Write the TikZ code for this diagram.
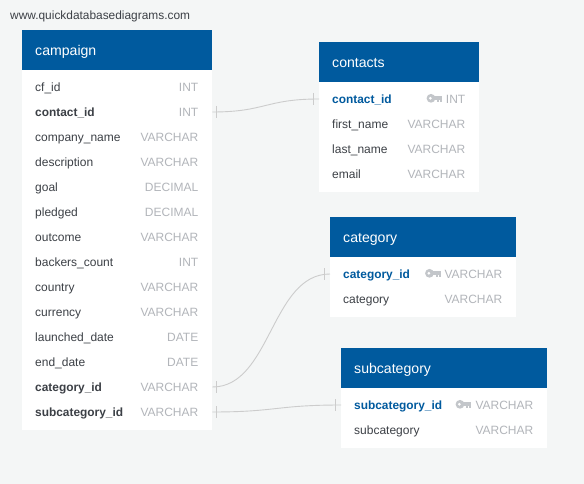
\documentclass[tikz,border=0pt]{standalone}
\usepackage{fontspec}
\setmainfont{Liberation Sans}
\definecolor{pagebg}{HTML}{F4F6F6}
\definecolor{headblue}{HTML}{005A9E}
\definecolor{rowtext}{HTML}{3C4046}
\definecolor{typegrey}{HTML}{B2B5BA}
\definecolor{linkline}{HTML}{CCCCCC}
\definecolor{keygrey}{HTML}{C3C6CA}
\tikzset{
  x=1pt,y=-1pt,
  headbox/.style={fill=headblue,draw=none,inner sep=0,anchor=north west,minimum height=40pt},
  rowbox/.style={fill=white,draw=none,inner sep=0,anchor=west,minimum height=25pt},
  rowname/.style={anchor=base west,inner sep=0,text=rowtext,font=\fontsize{12}{14}\selectfont},
  fkname/.style={rowname,font=\fontsize{11.9}{14}\selectfont\bfseries},
  pkname/.style={fkname,text=headblue},
  rowtype/.style={anchor=base east,inner sep=0,text=typegrey,font=\fontsize{12}{14}\selectfont},
  title/.style={anchor=base west,inner sep=0,text=white,font=\fontsize{14.1}{16}\selectfont},
  link/.style={draw=linkline,line width=0.9pt},
  tick/.style={draw=linkline,line width=0.9pt},
  keyicon/.pic={
    \fill[keygrey] (4.5,0) circle[radius=4.4];
    \fill[keygrey] (7,-1.9) rectangle (15.5,1.5);
    \fill[keygrey] (10.5,0) rectangle (12.5,3.5);
    \fill[keygrey] (13.5,0) rectangle (15.5,3.5);
    \fill[white] (3.8,0) circle[radius=1.5];
  }
}
% id, left, top, width, title
\newcommand{\tablehead}[5]{%
  \node[headbox,minimum width=#4pt] (#1) at (#2,#3) {};
  \node[title] (#1-title) at (#2+13,#3+25.5) {#5};
}
% id, left, centre y, width, name style, name, type
\newcommand{\tablerow}[7]{%
  \node[rowbox,minimum width=#4pt] (#1) at (#2,#3) {};
  \node[#5] (#1-name) at (#2+13,#3+4.2) {#6};
  \node[rowtype] (#1-type) at (#2+#4-13.5,#3+4.2) {#7};
}
\begin{document}
\begin{tikzpicture}
\useasboundingbox (0,0) rectangle (584,484);
\fill[pagebg] (0,0) rectangle (584,484);
\node[anchor=base west,inner sep=0,text=rowtext,font=\fontsize{11.9}{13}\selectfont] (site) at (10,19.5) {www.quickdatabasediagrams.com};

% campaign
\fill[white] (22,70) rectangle (212,430);
\tablehead{campaign}{22}{30}{190}{campaign}
\tablerow{c1}{22}{87}{190}{rowname}{cf\_id}{INT}
\tablerow{c2}{22}{112}{190}{fkname}{contact\_id}{INT}
\tablerow{c3}{22}{137}{190}{rowname}{company\_name}{VARCHAR}
\tablerow{c4}{22}{162}{190}{rowname}{description}{VARCHAR}
\tablerow{c5}{22}{187}{190}{rowname}{goal}{DECIMAL}
\tablerow{c6}{22}{212}{190}{rowname}{pledged}{DECIMAL}
\tablerow{c7}{22}{237}{190}{rowname}{outcome}{VARCHAR}
\tablerow{c8}{22}{262}{190}{rowname}{backers\_count}{INT}
\tablerow{c9}{22}{287}{190}{rowname}{country}{VARCHAR}
\tablerow{c10}{22}{312}{190}{rowname}{currency}{VARCHAR}
\tablerow{c11}{22}{337}{190}{rowname}{launched\_date}{DATE}
\tablerow{c12}{22}{362}{190}{rowname}{end\_date}{DATE}
\tablerow{c13}{22}{387}{190}{fkname}{category\_id}{VARCHAR}
\tablerow{c14}{22}{412}{190}{fkname}{subcategory\_id}{VARCHAR}

% contacts
\fill[white] (319,82) rectangle (479,192);
\tablehead{contacts}{319}{42}{160}{contacts}
\tablerow{k1}{319}{99}{160}{pkname}{contact\_id}{INT}
\tablerow{k2}{319}{124}{160}{rowname}{first\_name}{VARCHAR}
\tablerow{k3}{319}{149}{160}{rowname}{last\_name}{VARCHAR}
\tablerow{k4}{319}{174}{160}{rowname}{email}{VARCHAR}
\pic at (426.5,98.3) {keyicon};

% category
\fill[white] (330,257) rectangle (516,317);
\tablehead{category}{330}{217}{186}{category}
\tablerow{g1}{330}{274}{186}{pkname}{category\_id}{VARCHAR}
\tablerow{g2}{330}{299}{186}{rowname}{category}{VARCHAR}
\pic at (425,273.3) {keyicon};

% subcategory
\fill[white] (341,388) rectangle (547,448);
\tablehead{subcategory}{341}{348}{206}{subcategory}
\tablerow{s1}{341}{405}{206}{pkname}{subcategory\_id}{VARCHAR}
\tablerow{s2}{341}{430}{206}{rowname}{subcategory}{VARCHAR}
\pic at (455.5,404.3) {keyicon};

% connectors
\draw[link] (c2.east) .. controls (265.5,112) and (265.5,99) .. (k1.west);
\draw[link] (c13.east) .. controls (271,387) and (271,274) .. (g1.west);
\draw[link] (c14.east) .. controls (276.5,412) and (276.5,405) .. (s1.west);
% end ticks
\draw[tick] (216.5,106) -- (216.5,118);
\draw[tick] (313,93) -- (313,105);
\draw[tick] (216.5,381) -- (216.5,393);
\draw[tick] (324,268) -- (324,280);
\draw[tick] (216.5,406) -- (216.5,418);
\draw[tick] (335,399) -- (335,411);
\end{tikzpicture}
\end{document}
